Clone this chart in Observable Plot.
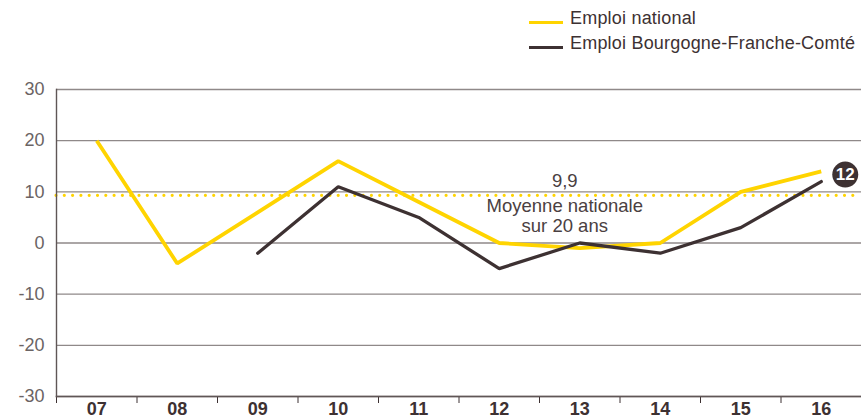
<!DOCTYPE html>
<html>
<head>
<meta charset="utf-8">
<script src="https://cdn.jsdelivr.net/npm/d3@7"></script>
<script src="https://cdn.jsdelivr.net/npm/@observablehq/plot@0.6"></script>
<style>
  body { margin: 0; background: #fff; font-family: "Liberation Sans", Arial, sans-serif; }
  #wrap { position: relative; width: 861px; height: 418px; overflow: hidden; }
  .legend { position: absolute; left: 529px; font-size: 18px; color: #3d3132; letter-spacing: 0.2px; white-space: nowrap; }
  .legend .sw { display: inline-block; width: 34px; height: 3px; vertical-align: middle; margin-right: 7px; position: relative; top: 3px; }
</style>
</head>
<body>
<div id="wrap"></div>
<script>
const years = [7, 8, 9, 10, 11, 12, 13, 14, 15, 16];
const yearLabels = ["07", "08", "09", "10", "11", "12", "13", "14", "15", "16"];
const national = [20, -4, 6, 16, 8, 0, -1, 0, 10, 14];
const bourgogne = [null, null, -2, 11, 5, -5, 0, -2, 3, 12];
const yTicks = [-30, -20, -10, 0, 10, 20, 30];
const meanValue = 9.9;
const meanLabel = "9,9";
const meanText = "Moyenne nationale\nsur 20 ans";
const meanLabelYear = 13;
const lastYear = 16;
const lastValue = 12;
const seriesNames = ["Emploi national", "Emploi Bourgogne-Franche-Comté"];

const YELLOW = "#ffd400";
const DARK = "#3d3132";
const GRID = "#8f8989";

const natData = years.map((x, i) => ({x, y: national[i]}));
const bfcData = years.map((x, i) => ({x, y: bourgogne[i]}));
const boundaries = d3.range(years[0] - 0.5, years[years.length - 1] + 1, 1);
const font = "'Liberation Sans', Arial, sans-serif";

const chart = Plot.plot({
  width: 861,
  height: 418,
  marginTop: 89,
  marginBottom: 22,
  marginLeft: 56,
  marginRight: 0,
  style: {fontFamily: font, background: "#fff", overflow: "visible"},
  x: {domain: [years[0] - 0.5, years[years.length - 1] + 0.5]},
  y: {domain: [-30, 30]},
  marks: [
    Plot.ruleY(yTicks, {stroke: GRID, strokeWidth: 1.4}),
    Plot.ruleY([meanValue], {stroke: YELLOW, strokeWidth: 3.2, strokeDasharray: "0 8.3", strokeLinecap: "round", dy: 3}),
    Plot.axisY({ticks: yTicks, tickFormat: d => String(d), tickSize: 0, tickPadding: 12, fontSize: 18, fill: "#6b6464", label: null}),
    Plot.axisX({ticks: boundaries, tickFormat: () => "", tickSize: 7, stroke: DARK, label: null}),
    Plot.axisX({ticks: years, tickFormat: d => yearLabels[years.indexOf(d)], tickSize: 0, tickPadding: 6, fontSize: 18, fontWeight: "bold", fill: DARK, label: null}),
    Plot.frame({anchor: "left", stroke: "#5f5656", strokeWidth: 1.4}),
    Plot.frame({anchor: "bottom", stroke: "#5f5656", strokeWidth: 1.6}),
    Plot.line(natData, {x: "x", y: "y", stroke: YELLOW, strokeWidth: 3.8, strokeLinejoin: "miter", strokeLinecap: "butt"}),
    Plot.line(bfcData, {x: "x", y: "y", stroke: DARK, strokeWidth: 3.3, strokeLinejoin: "miter", strokeLinecap: "round"}),
    Plot.text([meanLabel], {x: meanLabelYear, y: meanValue, text: d => d, dx: -15, dy: -11, fontSize: 18.5, fill: "#4a4041"}),
    Plot.text([meanText], {x: meanLabelYear, y: meanValue, text: d => d, dx: -15, dy: 6, lineAnchor: "top", lineHeight: 1.05, fontSize: 18.5, fill: "#4a4041"}),
    Plot.dot([{x: lastYear, y: lastValue}], {x: "x", y: "y", r: 13, fill: DARK, dx: 24, dy: -7}),
    Plot.text([{x: lastYear, y: lastValue}], {x: "x", y: "y", text: d => String(d.y), dx: 24, dy: -7, fill: "#fff", fontSize: 17, fontWeight: "bold"})
  ]
});

const wrap = document.getElementById("wrap");
wrap.appendChild(chart);

const colors = [YELLOW, DARK];
const tops = [8, 33];
seriesNames.forEach((name, i) => {
  const div = document.createElement("div");
  div.className = "legend";
  div.style.top = tops[i] + "px";
  const sw = document.createElement("span");
  sw.className = "sw";
  sw.style.background = colors[i];
  div.appendChild(sw);
  div.appendChild(document.createTextNode(name));
  wrap.appendChild(div);
});
</script>
</body>
</html>
